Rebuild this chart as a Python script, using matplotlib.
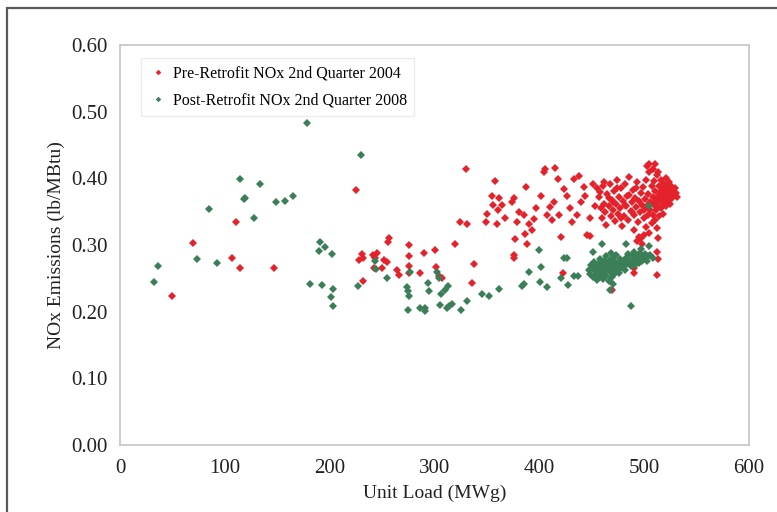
import matplotlib
matplotlib.use("Agg")
import matplotlib.pyplot as plt
import matplotlib.patches as mpatches

plt.rcParams["font.family"] = ["Liberation Serif", "DejaVu Serif"]

# pre-retrofit 2004 (x = unit load MWg, y = NOx lb/MBtu)
pre_x = [50, 70, 107, 111, 114, 147, 225, 228, 231, 232, 232, 241, 243, 245, 242, 250, 252, 255,
         256, 257, 264, 266, 276, 276, 276, 276, 286, 290, 300, 301, 304, 307, 320, 324, 331, 330,
         338, 336, 349, 350, 355, 358, 356, 362, 361, 364, 360, 367, 374, 376, 376, 376, 377, 379,
         381, 385, 387, 386, 388, 390, 393, 397, 395, 402, 405, 404, 407, 410, 412, 415, 418, 414,
         419, 421, 423, 424, 426, 429, 431, 433, 436, 438, 440, 443, 444, 445, 448, 448, 451, 453,
         455, 469, 490, 490, 512, 513, 512, 513, 505, 510,
         457, 459, 460, 461, 462, 463, 464, 465, 466, 467, 468, 469, 470, 471, 472, 473, 474, 475,
         476, 477, 478, 479, 480, 481, 482, 483, 484, 485, 486, 487, 488, 489, 490, 490, 491, 492,
         493, 494, 495, 495, 496, 497, 498, 498, 499, 500, 500, 501, 502, 502, 503, 504, 504, 505,
         505, 506, 506, 507, 507, 508, 508, 509, 509, 510, 510, 511, 511, 512, 512, 513, 513, 514,
         514, 515, 515, 516, 516, 517, 517, 518, 518, 519, 519, 520, 520, 521, 521, 522, 522, 523,
         523, 524, 524, 525, 525, 526, 526, 527, 527, 528, 529, 530, 531, 503, 508, 513, 497, 500,
         493, 458, 462, 466, 470, 474, 478, 482, 486, 488, 492]
pre_y = [0.223, 0.303, 0.281, 0.334, 0.265, 0.265, 0.383, 0.278, 0.286, 0.280, 0.246, 0.285, 0.280,
         0.288, 0.265, 0.265, 0.278, 0.275, 0.305, 0.310, 0.263, 0.255, 0.300, 0.283, 0.269, 0.258,
         0.258, 0.288, 0.293, 0.267, 0.254, 0.250, 0.302, 0.334, 0.331, 0.414, 0.271, 0.243, 0.335,
         0.346, 0.374, 0.396, 0.360, 0.370, 0.352, 0.360, 0.331, 0.340, 0.364, 0.370, 0.285, 0.280,
         0.309, 0.335, 0.350, 0.345, 0.387, 0.317, 0.302, 0.332, 0.322, 0.355, 0.339, 0.374, 0.414,
         0.409, 0.345, 0.357, 0.337, 0.416, 0.399, 0.364, 0.345, 0.312, 0.258, 0.384, 0.374, 0.355,
         0.335, 0.399, 0.345, 0.404, 0.364, 0.387, 0.374, 0.315, 0.314, 0.340, 0.391, 0.359, 0.385,
         0.233, 0.258, 0.265, 0.255, 0.279, 0.290, 0.311, 0.421, 0.421,
         0.372, 0.355, 0.341, 0.388, 0.362, 0.349, 0.330, 0.376, 0.358, 0.392, 0.343, 0.368, 0.352,
         0.381, 0.336, 0.361, 0.398, 0.347, 0.372, 0.356, 0.385, 0.329, 0.366, 0.344, 0.391, 0.358,
         0.373, 0.338, 0.402, 0.351, 0.364, 0.382, 0.345, 0.323, 0.371, 0.357, 0.395, 0.334, 0.366,
         0.312, 0.349, 0.378, 0.360, 0.302, 0.387, 0.341, 0.353, 0.369, 0.327, 0.398, 0.359, 0.376,
         0.345, 0.410, 0.318, 0.364, 0.352, 0.388, 0.333, 0.372, 0.345, 0.396, 0.360, 0.381, 0.338,
         0.366, 0.352, 0.405, 0.325, 0.374, 0.359, 0.389, 0.344, 0.368, 0.380, 0.397, 0.356, 0.372,
         0.385, 0.363, 0.347, 0.391, 0.376, 0.368, 0.382, 0.400, 0.358, 0.374, 0.386, 0.366, 0.379,
         0.394, 0.371, 0.384, 0.362, 0.377, 0.389, 0.370, 0.381, 0.375, 0.386, 0.378, 0.372, 0.418,
         0.414, 0.409, 0.310, 0.315, 0.306, 0.380, 0.395, 0.370, 0.365, 0.385, 0.340, 0.360, 0.375,
         0.350, 0.385]

# post-retrofit 2008
post_x = [32, 36, 73, 85, 93, 114, 118, 119, 128, 134, 149, 157, 165, 178, 181, 190, 191, 193, 196,
          202, 201, 203, 203, 230, 227, 243, 244, 255, 274, 275, 276, 275, 277, 286, 291, 291, 294,
          295, 302, 304, 305, 306, 310, 313, 314, 317, 312, 325, 331, 345, 352, 362, 383, 385, 390,
          400, 402, 401, 407, 421, 424, 426, 427, 433, 437, 451, 460, 467, 470, 487, 505, 483, 497,
          505,
          447, 448, 449, 450, 451, 452, 453, 454, 455, 455, 456, 457, 458, 458, 459, 460, 460, 461,
          462, 462, 463, 464, 464, 465, 465, 466, 466, 467, 467, 468, 468, 469, 469, 470, 470, 471,
          471, 472, 473, 473, 474, 475, 476, 477, 478, 479, 480, 481, 482,
          483, 484, 485, 486, 487, 488, 489, 490, 490, 491, 492, 493, 494, 495, 496, 497, 498, 499,
          500, 501, 502, 503, 504, 506, 508]
post_y = [0.244, 0.268, 0.279, 0.354, 0.273, 0.399, 0.369, 0.371, 0.341, 0.392, 0.365, 0.366, 0.373,
          0.483, 0.242, 0.291, 0.305, 0.240, 0.297, 0.287, 0.222, 0.234, 0.209, 0.435, 0.238, 0.276,
          0.264, 0.251, 0.237, 0.231, 0.223, 0.203, 0.259, 0.206, 0.206, 0.201, 0.243, 0.231, 0.260,
          0.250, 0.210, 0.226, 0.233, 0.238, 0.208, 0.211, 0.205, 0.203, 0.216, 0.227, 0.223, 0.234,
          0.238, 0.241, 0.260, 0.293, 0.267, 0.244, 0.237, 0.251, 0.280, 0.281, 0.240, 0.254, 0.254,
          0.290, 0.301, 0.233, 0.241, 0.208, 0.358, 0.301, 0.294, 0.298,
          0.262, 0.256, 0.270, 0.265, 0.252, 0.275, 0.261, 0.268, 0.257, 0.248, 0.272, 0.263, 0.279,
          0.254, 0.266, 0.260, 0.271, 0.249, 0.276, 0.258, 0.267, 0.283, 0.254, 0.262, 0.272, 0.246,
          0.268, 0.259, 0.277, 0.265, 0.288, 0.252, 0.271, 0.262, 0.280, 0.256, 0.268, 0.274, 0.260,
          0.285, 0.266, 0.271, 0.258, 0.279, 0.265, 0.272, 0.268, 0.276, 0.263,
          0.281, 0.272, 0.287, 0.276, 0.268, 0.283, 0.274, 0.290, 0.279, 0.270, 0.285, 0.277, 0.282,
          0.273, 0.288, 0.280, 0.276, 0.284, 0.279, 0.287, 0.281, 0.276, 0.283, 0.285, 0.280]

xticks = [0, 100, 200, 300, 400, 500, 600]
yticks = [0.0, 0.1, 0.2, 0.3, 0.4, 0.5, 0.6]

RED = "#e4222b"
GREEN = "#3b7f58"

fig = plt.figure(figsize=(7.77, 5.12), dpi=100)
ax = fig.add_axes([120 / 777, 1 - 445 / 512, 629 / 777, 400 / 512])

ax.plot(pre_x, pre_y, "D", color=RED, ms=4.3, mew=0, label="Pre-Retrofit NOx 2nd Quarter 2004")
ax.plot(post_x, post_y, "D", color=GREEN, ms=4.3, mew=0, label="Post-Retrofit NOx 2nd Quarter 2008")

ax.set_xlim(0, 600)
ax.set_ylim(0, 0.6)
ax.set_xticks(xticks)
ax.set_yticks(yticks)
ax.set_yticklabels([f"{v:.2f}" for v in yticks])
ax.tick_params(length=0, labelsize=15, colors="#222222")
ax.tick_params(axis="y", pad=9)
ax.tick_params(axis="x", pad=10)
for s in ax.spines.values():
    s.set_color("#c4c4c4")
    s.set_linewidth(1.2)

ax.set_xlabel("Unit Load (MWg)", fontsize=14, color="#222222", labelpad=5)
ax.set_ylabel("NOx Emissions (lb/MBtu)", fontsize=14, color="#222222", labelpad=4)

leg = ax.legend(loc="upper left", bbox_to_anchor=(0.034, 0.967), borderaxespad=0, fontsize=11.5,
                frameon=True, fancybox=False, edgecolor="#e6e6e6", handlelength=1.2,
                handletextpad=0.3, borderpad=0.45, labelspacing=0.7, markerscale=0.65)
leg.get_frame().set_linewidth(1.0)

# dark page border (left + top)
fig.add_artist(mpatches.Rectangle((7 / 777, -0.1), 1.2, 1.1 - 8 / 512, transform=fig.transFigure,
                                  fill=False, ec="#5a5a5a", lw=1.6))

fig.savefig("out.png", dpi=100)
